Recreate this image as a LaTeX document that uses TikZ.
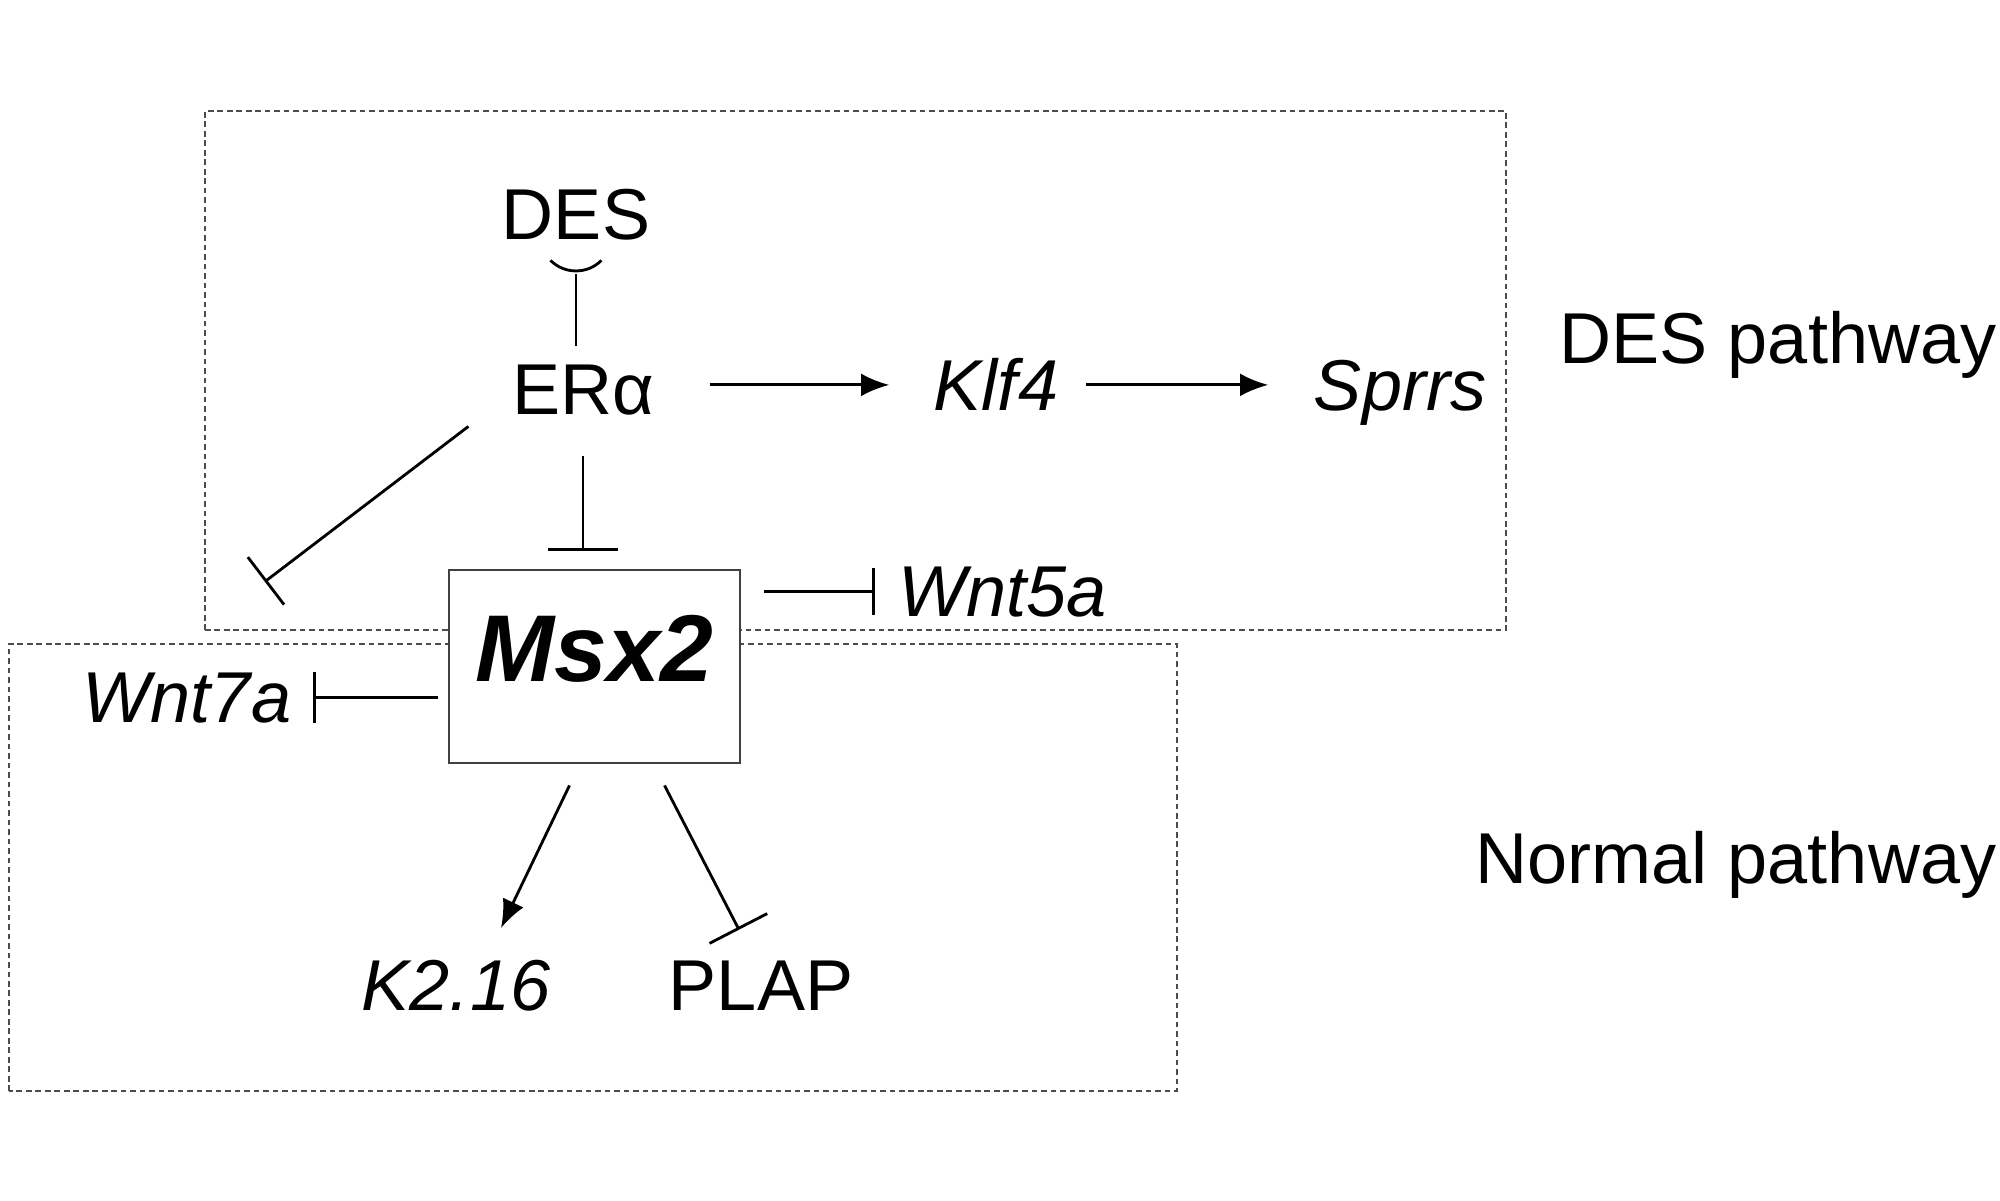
\documentclass[tikz,border=0pt]{standalone}
\usepackage{fontspec}
\setmainfont{Liberation Sans}
\usetikzlibrary{arrows.meta,calc}

\begin{document}
\begin{tikzpicture}[>={Latex[length=8pt,width=6.5pt]},
    lbl/.style={anchor=base, inner sep=0pt, font=\fontsize{20.5}{24}\selectfont},
    gene/.style={lbl, font=\fontsize{20.5}{24}\selectfont\itshape},
    act/.style={->, line width=0.8pt},
    inhib/.style={-{Bar[width=#1]}, line width=0.8pt},
    inhib/.default=15pt,
    pathbox/.style={draw=black!70, line width=0.7pt, dash pattern=on 1.6pt off 1.1pt},
    msxbox/.style={draw=black!75, fill=white, line width=0.8pt,
      minimum width=2.91cm, minimum height=1.93cm, inner sep=0pt,
      text height=19.3pt, text depth=10.5pt,
      font=\fontsize{27}{30}\selectfont\bfseries\itshape}]
  \useasboundingbox (0,0) rectangle (20,12);

  % DES pathway frame (top) and normal pathway frame (bottom)
  \draw[pathbox] (2.05,5.70) rectangle (15.06,10.89);
  \draw[pathbox] (0.09,1.09) rectangle (11.77,5.56);

  % Labels
  \node[lbl]  (des)   at (5.76,9.60)  {DES};
  \node[lbl]  (era)   at (5.83,7.85)  {ERα};
  \node[gene] (klf4)  at (9.96,7.89)  {Klf4};
  \node[gene] (sprrs) at (14.00,7.89) {Sprrs};
  \node[gene, anchor=base west] (wnt5a) at (8.98,5.84) {Wnt5a};
  \node[gene] (wnt7a) at (1.87,4.78)  {Wnt7a};
  \node[gene] (k216)  at (4.56,1.90)  {K2.16};
  \node[lbl]  (plap)  at (7.61,1.90)  {PLAP};
  \node[lbl, anchor=base east] (despath)  at (19.97,8.36) {DES pathway};
  \node[lbl, anchor=base east] (normpath) at (19.97,3.17) {Normal pathway};

  % Msx2 sits on both frames
  \node[msxbox] (msx2) at (5.945,5.335) {Msx2};

  % DES binds ER alpha
  \draw[line width=0.8pt, shorten <=0.19cm, shorten >=0.33cm]
    (des.south |- era.north) -- (des.south);
  \draw[line width=0.8pt] (des.south) ++(-0.255,-0.19)
    arc[start angle=225, end angle=315, radius=0.36];

  % ER alpha targets
  \draw[act, shorten <=0.55cm, shorten >=0.44cm] (klf4.west -| era.east) -- (klf4.west);
  \draw[act, shorten <=0.27cm, shorten >=0.45cm] (klf4.east) -- (klf4.east -| sprrs.west);
  \draw[inhib=20pt, shorten <=0.40cm, shorten >=0.18cm] (era.south) -- (era.south |- msx2.north);
  \draw[inhib=17pt] ([shift={(-0.43,-0.10)}]era.south west) -- ([shift={(-0.27,0.90)}]wnt7a.north east);

  % Msx2 targets
  \draw[inhib=13.4pt, shorten <=0.23cm, shorten >=0.23cm] (wnt5a.west -| msx2.east) -- (wnt5a.west);
  \draw[inhib=14.5pt, shorten <=0.10cm, shorten >=0.21cm] (wnt7a.east -| msx2.west) -- (wnt7a.east);
  \draw[act] ([shift={(-0.25,-0.21)}]msx2.south) -- ([shift={(0.45,0.31)}]k216.north);
  \draw[inhib=18.5pt] ([shift={(0.70,-0.21)}]msx2.south) -- ([shift={(-0.22,0.30)}]plap.north);
\end{tikzpicture}
\end{document}
